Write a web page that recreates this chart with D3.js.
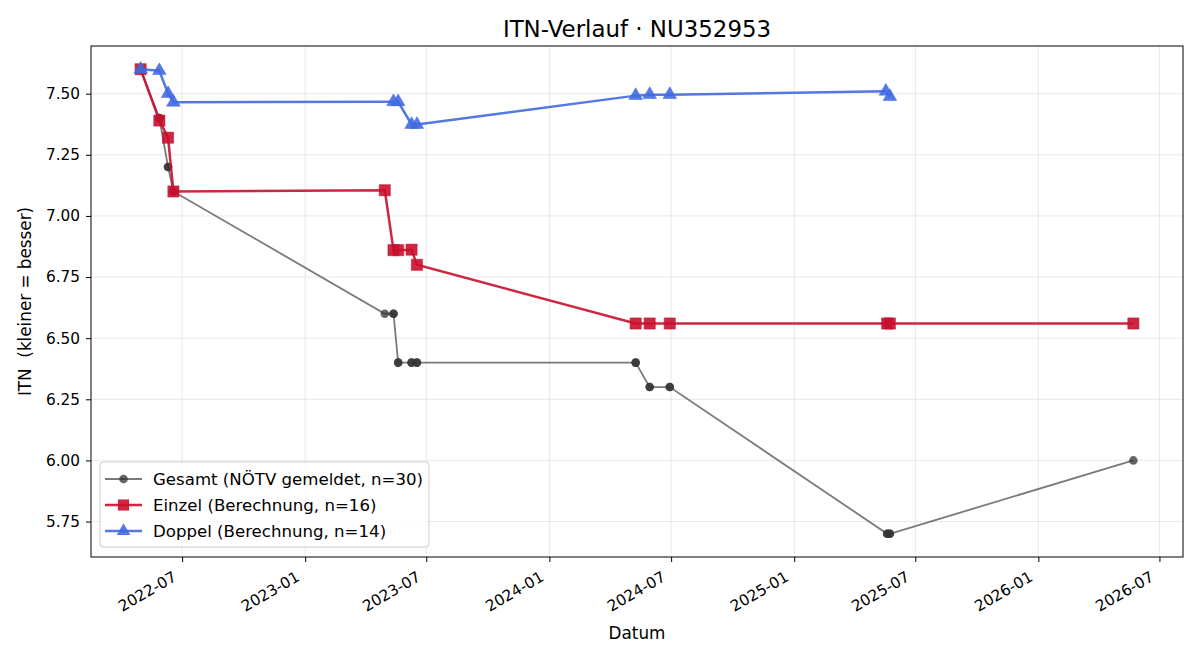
<!DOCTYPE html>
<html lang="de">
<head>
<meta charset="UTF-8">
<title>ITN-Verlauf</title>
<script src="https://cdn.jsdelivr.net/npm/d3@7"></script>
<style>
  body { margin: 0; background: #fff; }
  svg, svg text { font-family: "DejaVu Sans", sans-serif; }
</style>
</head>
<body>
<script>
// Daten
const gesamtDates = ["2022-04-30","2022-04-30","2022-05-28","2022-05-28","2022-06-10","2022-06-10","2022-06-18","2022-06-18",
  "2023-04-30","2023-05-13","2023-05-13","2023-05-20","2023-05-20","2023-06-09","2023-06-09","2023-06-17","2023-06-17",
  "2024-05-09","2024-05-09","2024-05-30","2024-05-30","2024-06-29","2024-06-29",
  "2025-05-20","2025-05-20","2025-05-24","2025-05-24","2026-05-23"];
const gesamtValues = [7.60,7.60,7.40,7.40,7.20,7.20,7.10,7.10,
  6.60,6.60,6.60,6.40,6.40,6.40,6.40,6.40,6.40,
  6.40,6.40,6.30,6.30,6.30,6.30,
  5.70,5.70,5.70,5.70,6.00];

const einzelDates = ["2022-04-30","2022-05-28","2022-06-10","2022-06-18","2023-04-30","2023-05-13","2023-05-20",
  "2023-06-09","2023-06-17","2024-05-09","2024-05-30","2024-06-29","2025-05-20","2025-05-24","2026-05-23"];
const einzelValues = [7.60,7.39,7.32,7.10,7.105,6.86,6.86,6.862,6.80,6.56,6.56,6.56,6.56,6.56,6.56];

const doppelDates = ["2022-04-30","2022-05-28","2022-06-10","2022-06-18","2023-05-13","2023-05-20","2023-06-09",
  "2023-06-17","2024-05-09","2024-05-30","2024-06-29","2025-05-18","2025-05-24"];
const doppelValues = [7.60,7.594,7.50,7.465,7.467,7.467,7.374,7.374,7.492,7.496,7.496,7.51,7.488];

const yTicks = [5.75, 6.00, 6.25, 6.50, 6.75, 7.00, 7.25, 7.50];
const legendLabels = ["Gesamt (NÖTV gemeldet, n=30)", "Einzel (Berechnung, n=16)", "Doppel (Berechnung, n=14)"];

const width = 1200, height = 660;
const margin = { top: 46, right: 17, bottom: 103, left: 91 };
const iw = width - margin.left - margin.right;
const ih = height - margin.top - margin.bottom;

const parse = d3.timeParse("%Y-%m-%d");
const zip = (ds, vs) => ds.map((d, i) => ({ date: parse(d), value: vs[i] }));
const gesamt = zip(gesamtDates, gesamtValues);
const einzel = zip(einzelDates, einzelValues);
const doppel = zip(doppelDates, doppelValues);
const all = gesamt.concat(einzel, doppel);

// 5% Rand wie matplotlib
const [t0, t1] = d3.extent(all, d => +d.date);
const tPad = (t1 - t0) * 0.05;
const [v0, v1] = d3.extent(all, d => d.value);
const vPad = (v1 - v0) * 0.05;

const x = d3.scaleTime().domain([new Date(t0 - tPad), new Date(t1 + tPad)]).range([0, iw]);
const y = d3.scaleLinear().domain([v0 - vPad, v1 + vPad]).range([ih, 0]);

const svg = d3.select("body").append("svg").attr("width", width).attr("height", height);
const g = svg.append("g").attr("transform", `translate(${margin.left},${margin.top})`);

const xTicks = x.ticks(d3.timeMonth.every(6));

// Gitter
g.append("g").selectAll("line").data(xTicks).join("line")
  .attr("x1", d => x(d)).attr("x2", d => x(d)).attr("y1", 0).attr("y2", ih)
  .attr("stroke", "#b0b0b0").attr("stroke-opacity", 0.35).attr("stroke-width", 0.8);
g.append("g").selectAll("line").data(yTicks).join("line")
  .attr("x1", 0).attr("x2", iw).attr("y1", d => y(d)).attr("y2", d => y(d))
  .attr("stroke", "#b0b0b0").attr("stroke-opacity", 0.35).attr("stroke-width", 0.8);

// Achsen
const xAxis = g.append("g").attr("transform", `translate(0,${ih})`)
  .call(d3.axisBottom(x).tickValues(xTicks).tickSize(5).tickFormat(d3.timeFormat("%Y-%m")));
xAxis.select(".domain").remove();
xAxis.selectAll("text")
  .style("font-size", "15.3px").style("font-family", "DejaVu Sans").attr("fill", "#000")
  .attr("text-anchor", "end")
  .attr("y", 0).attr("dy", 0)
  .attr("transform", "translate(-5,23) rotate(-30)");

const yAxis = g.append("g")
  .call(d3.axisLeft(y).tickValues(yTicks).tickSize(5).tickPadding(6).tickFormat(d3.format(".2f")));
yAxis.select(".domain").remove();
yAxis.selectAll("text").style("font-size", "15.3px").style("font-family", "DejaVu Sans").attr("fill", "#000");

g.append("rect").attr("width", iw).attr("height", ih)
  .attr("fill", "none").attr("stroke", "#000").attr("stroke-width", 1);

const line = d3.line().x(d => x(d.date)).y(d => y(d.value));

// Gesamt
g.append("path").datum(gesamt).attr("d", line)
  .attr("fill", "none").attr("stroke", "#333").attr("stroke-opacity", 0.65).attr("stroke-width", 1.8);
g.append("g").selectAll("circle").data(gesamt).join("circle")
  .attr("cx", d => x(d.date)).attr("cy", d => y(d.value)).attr("r", 4.3)
  .attr("fill", "#333").attr("fill-opacity", 0.75);

// Einzel
const red = "#c8102e";
g.append("path").datum(einzel).attr("d", line)
  .attr("fill", "none").attr("stroke", red).attr("stroke-opacity", 0.9).attr("stroke-width", 2.5);
const sq = d3.symbol().type(d3.symbolSquare).size(125);
g.append("g").selectAll("path").data(einzel).join("path")
  .attr("d", sq).attr("transform", d => `translate(${x(d.date)},${y(d.value)})`)
  .attr("fill", red).attr("fill-opacity", 0.9).attr("stroke", red).attr("stroke-opacity", 0.5);

// Doppel
const blue = "#4169e1";
g.append("path").datum(doppel).attr("d", line)
  .attr("fill", "none").attr("stroke", blue).attr("stroke-opacity", 0.9).attr("stroke-width", 2.5);
const tri = d3.symbol().type(d3.symbolTriangle).size(80);
g.append("g").selectAll("path").data(doppel).join("path")
  .attr("d", tri).attr("transform", d => `translate(${x(d.date)},${y(d.value)})`)
  .attr("fill", blue).attr("fill-opacity", 0.9).attr("stroke", blue).attr("stroke-opacity", 0.5);

// Titel und Beschriftungen
svg.append("text").attr("x", margin.left + iw / 2).attr("y", 36.5)
  .attr("text-anchor", "middle").style("font-size", "22.9px").text("ITN-Verlauf · NU352953");
svg.append("text").attr("x", margin.left + iw / 2).attr("y", 639)
  .attr("text-anchor", "middle").style("font-size", "16.8px").text("Datum");
svg.append("text")
  .attr("transform", `translate(31,${margin.top + ih / 2}) rotate(-90)`)
  .attr("text-anchor", "middle").style("font-size", "16.8px")
  .style("white-space", "pre").text("ITN  (kleiner = besser)");

// Legende
const leg = g.append("g").attr("transform", `translate(${100 - margin.left},${462 - margin.top})`);
leg.append("rect").attr("width", 329).attr("height", 85).attr("rx", 3)
  .attr("fill", "#fff").attr("fill-opacity", 0.8).attr("stroke", "#ccc");
const legStyle = [
  { color: "#333", op: 0.65, w: 1.8, mark: "circle" },
  { color: red, op: 0.9, w: 2.5, mark: "square" },
  { color: blue, op: 0.9, w: 2.5, mark: "triangle" }
];
legendLabels.forEach((lab, i) => {
  const row = leg.append("g").attr("transform", `translate(0,${17 + i * 26})`);
  const s = legStyle[i];
  row.append("line").attr("x1", 5).attr("x2", 42).attr("stroke", s.color)
    .attr("stroke-opacity", s.op).attr("stroke-width", s.w);
  if (s.mark === "circle") {
    row.append("circle").attr("cx", 23.5).attr("r", 4.3).attr("fill", s.color).attr("fill-opacity", 0.75);
  } else {
    row.append("path").attr("d", s.mark === "square" ? sq : tri).attr("transform", "translate(23.5,0)")
      .attr("fill", s.color).attr("fill-opacity", 0.9);
  }
  row.append("text").attr("x", 53).attr("dy", "0.35em").style("font-size", "16.6px").text(lab);
});
</script>
</body>
</html>
